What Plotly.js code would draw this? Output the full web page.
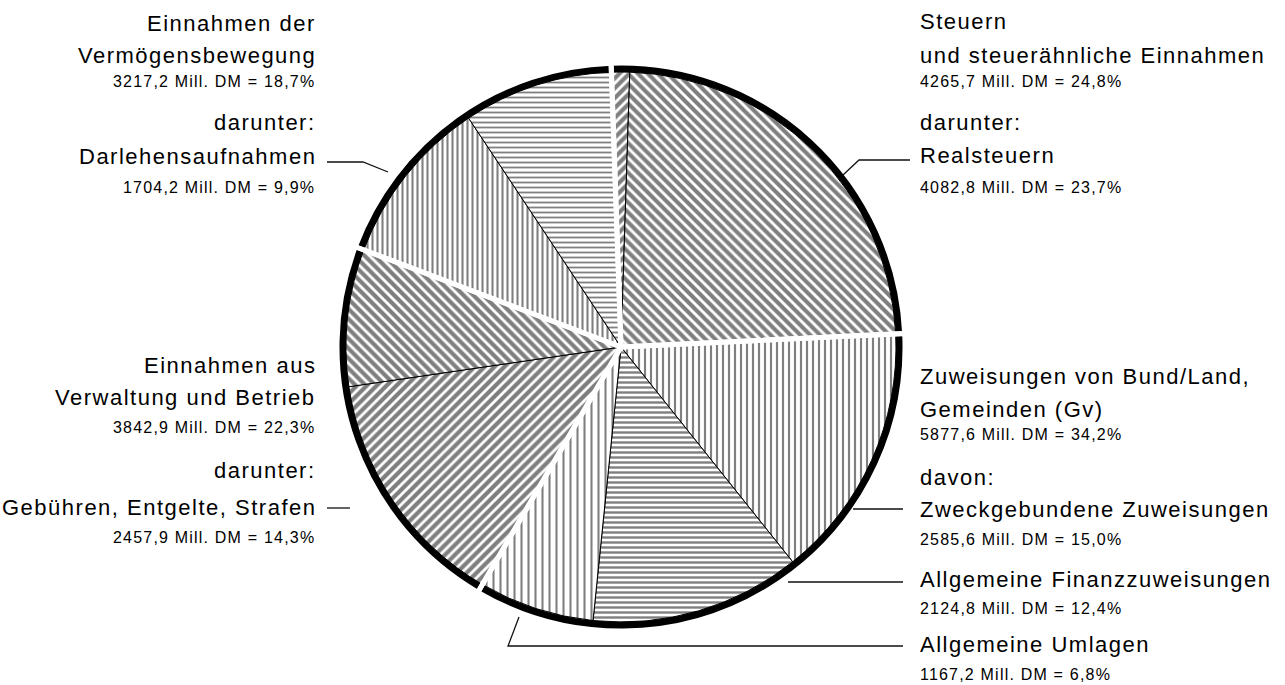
<!DOCTYPE html>
<html><head><meta charset="utf-8">
<script src="https://cdn.plot.ly/plotly-3.0.1.min.js"></script>
<style>html,body{margin:0;padding:0;background:#fff;overflow:hidden}#chart{width:1285px;height:685px}</style>
</head><body><div id="chart"></div>
<script>
// ---- data (values in Mill. DM, shares in %) ----
const groupNames = ["Steuern und steuerähnliche Einnahmen", "Zuweisungen von Bund/Land, Gemeinden (Gv)", "Einnahmen aus Verwaltung und Betrieb", "Einnahmen der Vermögensbewegung"];
const groupValues = [4265.7, 5877.6, 3842.9, 3217.2];
const groupPercents = [24.8, 34.2, 22.3, 18.7];
const sliceNames = ["übrige Steuern", "Realsteuern", "Zweckgebundene Zuweisungen", "Allgemeine Finanzzuweisungen", "Allgemeine Umlagen", "Gebühren, Entgelte, Strafen", "übrige Einnahmen aus Verwaltung und Betrieb", "Darlehensaufnahmen", "übrige Einnahmen der Vermögensbewegung"];
const sliceValues = [182.9, 4082.8, 2585.6, 2124.8, 1167.2, 2457.9, 1385.0, 1704.2, 1513.0];
const slicePercents = [1.1, 23.7, 15.0, 12.4, 6.8, 14.3, 8.0, 9.9, 8.8];

// ---- styling / layout ----
const W = 1285, H = 685;
const CX = 621, CY = 347, R_IN = 275, R_OUT = 284;
function dom(r) { return {x: [(CX - r) / W, (CX + r) / W], y: [(H - CY - r) / H, (H - CY + r) / H]}; }
const FONT = "Liberation Sans, Arial, sans-serif";
const fmt = v => v.toFixed(1).replace('.', ',');
const amount = (v, p) => fmt(v) + " Mill. DM = " + fmt(p) + "%";

const common = {type: 'pie', sort: false, direction: 'clockwise', rotation: -2, textinfo: 'none', hoverinfo: 'label+value+percent', showlegend: false};

const rim = Object.assign({}, common, {
  values: groupValues, labels: groupNames, domain: dom(R_OUT),
  marker: {colors: groupValues.map(() => '#000000'), line: {width: 0}}
});
const detail = Object.assign({}, common, {
  values: sliceValues, labels: sliceNames, domain: dom(R_IN),
  marker: {
    colors: sliceValues.map(() => '#ffffff'),
    line: {color: '#000000', width: 1},
    pattern: {
      shape:    ['/', '\\', '|', '-', '|', '/', '\\', '|', '-'],
      size:     [7,    7,    6,   5,   7,   7,   7,    5,   5],
      solidity: [0.6,  0.58, 0.36,0.48,0.3, 0.6, 0.6,  0.42,0.36],
      fgcolor: '#000000', bgcolor: '#ffffff', fillmode: 'overlay'
    }
  }
});
const gaps = Object.assign({}, common, {
  values: groupValues, labels: groupNames, domain: dom(R_OUT), hoverinfo: 'skip',
  marker: {colors: groupValues.map(() => 'rgba(0,0,0,0)'), line: {color: '#ffffff', width: 5}}
});

const BIG = 22, SMALL = 16;
function lab(text, x, base, big, side) {
  const f = big ? BIG : SMALL;
  const ls = big ? 1.5 : 1.2;
  return {
    xref: 'paper', yref: 'paper', showarrow: false,
    x: (side === 'r' ? x + ls : x) / W, y: 1 - (base - 0.3465 * f) / H,
    xanchor: side === 'r' ? 'right' : 'left', yanchor: 'middle', align: side === 'r' ? 'right' : 'left',
    text: '<span style="letter-spacing:' + ls + 'px">' + text + '</span>',
    font: {family: FONT, size: f, color: '#000'}
  };
}
const XL = 316, XR = 918;
const annotations = [
  // top left: Vermögensbewegung
  lab("Einnahmen der", XL, 31, true, 'r'),
  lab("Vermögensbewegung", XL, 63, true, 'r'),
  lab(amount(groupValues[3], groupPercents[3]), XL, 87, false, 'r'),
  lab("darunter:", XL, 130, true, 'r'),
  lab(sliceNames[7], XL, 164, true, 'r'),
  lab(amount(sliceValues[7], slicePercents[7]), XL, 193, false, 'r'),
  // top right: Steuern
  lab("Steuern", XR, 29, true, 'l'),
  lab("und steuerähnliche Einnahmen", XR, 63, true, 'l'),
  lab(amount(groupValues[0], groupPercents[0]), XR, 87, false, 'l'),
  lab("darunter:", XR, 130, true, 'l'),
  lab(sliceNames[1], XR, 163, true, 'l'),
  lab(amount(sliceValues[1], slicePercents[1]), XR, 193, false, 'l'),
  // middle left: Verwaltung und Betrieb
  lab("Einnahmen aus", XL, 373, true, 'r'),
  lab("Verwaltung und Betrieb", XL, 405, true, 'r'),
  lab(amount(groupValues[2], groupPercents[2]), XL, 433, false, 'r'),
  lab("darunter:", XL, 478, true, 'r'),
  lab(sliceNames[5], XL, 515, true, 'r'),
  lab(amount(sliceValues[5], slicePercents[5]), XL, 543, false, 'r'),
  // right: Zuweisungen
  lab("Zuweisungen von Bund/Land,", XR, 384, true, 'l'),
  lab("Gemeinden (Gv)", XR, 417, true, 'l'),
  lab(amount(groupValues[1], groupPercents[1]), XR, 440, false, 'l'),
  lab("davon:", XR, 485, true, 'l'),
  lab(sliceNames[2], XR, 517, true, 'l'),
  lab(amount(sliceValues[2], slicePercents[2]), XR, 545, false, 'l'),
  lab(sliceNames[3], XR, 587, true, 'l'),
  lab(amount(sliceValues[3], slicePercents[3]), XR, 614, false, 'l'),
  lab(sliceNames[4], XR, 652, true, 'l'),
  lab(amount(sliceValues[4], slicePercents[4]), XR, 680, false, 'l')
];

function leader(pts) {
  let d = '';
  pts.forEach((p, i) => { d += (i ? ' L ' : 'M ') + (p[0] / W).toFixed(5) + ',' + (1 - p[1] / H).toFixed(5); });
  return {type: 'path', xref: 'paper', yref: 'paper', path: d, line: {color: '#111', width: 1.3}};
}
const shapes = [
  leader([[327, 162], [363, 162], [388, 172]]),
  leader([[843, 175], [859, 160], [910, 160]]),
  leader([[327, 508], [350, 508]]),
  leader([[853, 509], [903, 509]]),
  leader([[788, 582], [903, 582]]),
  leader([[519, 617], [508, 646], [903, 646]])
];

Plotly.newPlot('chart', [rim, detail, gaps], {
  width: W, height: H, margin: {l: 0, r: 0, t: 0, b: 0},
  paper_bgcolor: '#ffffff', plot_bgcolor: '#ffffff',
  annotations: annotations, shapes: shapes
}, {displayModeBar: false, staticPlot: true});
</script></body></html>
